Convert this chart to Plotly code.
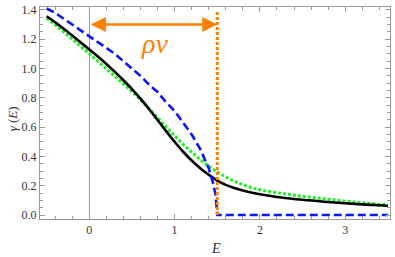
import plotly.graph_objects as go

# ---- data ----
E_black = [-0.5, -0.4, -0.3, -0.2, -0.1, 0.0, 0.1, 0.2, 0.3, 0.4, 0.5, 0.6, 0.7, 0.8, 0.9, 1.0,
           1.1, 1.2, 1.3, 1.4, 1.5, 1.6, 1.7, 1.8, 2.0, 2.25, 2.5, 2.75, 3.0, 3.25, 3.5]
gamma_black = [1.357, 1.315, 1.271, 1.225, 1.178, 1.130, 1.082, 1.031, 0.977, 0.920, 0.860, 0.795,
               0.724, 0.649, 0.573, 0.500, 0.432, 0.372, 0.320, 0.275, 0.235, 0.206, 0.184, 0.167,
               0.142, 0.120, 0.104, 0.091, 0.080, 0.071, 0.063]

E_green = [-0.5, -0.4, -0.3, -0.2, -0.1, 0.0, 0.1, 0.2, 0.3, 0.4, 0.5, 0.6, 0.7, 0.8, 0.9, 1.0,
           1.1, 1.2, 1.3, 1.4, 1.5, 1.6, 1.7, 1.8, 1.9, 2.0, 2.25, 2.5, 2.75, 3.0, 3.25, 3.5]
gamma_green = [1.345, 1.298, 1.250, 1.201, 1.151, 1.100, 1.049, 0.998, 0.947, 0.895, 0.842, 0.786,
               0.726, 0.664, 0.602, 0.541, 0.483, 0.429, 0.379, 0.334, 0.294, 0.260, 0.231, 0.207,
               0.188, 0.173, 0.148, 0.128, 0.111, 0.095, 0.081, 0.068]

E_blue = [-0.5, -0.4, -0.3, -0.2, -0.1, 0.0, 0.1, 0.2, 0.3, 0.4, 0.5, 0.6, 0.7, 0.8, 0.9,
          1.0, 1.1, 1.2, 1.3, 1.4, 1.45, 1.48, 1.5, 3.5]
gamma_blue = [1.41, 1.38, 1.34, 1.30, 1.26, 1.22, 1.18, 1.14, 1.10, 1.05, 1.00, 0.95, 0.89, 0.84, 0.77,
              0.71, 0.63, 0.55, 0.45, 0.32, 0.22, 0.14, 0.0, 0.0]

rho_v = 1.5          # position of the orange cut-off line
cut_top = 1.39       # top of orange dotted line
arrow_y = 1.3        # height of double arrow
label_pos = (0.77, 1.17)

x_ticks = [0, 1, 2, 3]
y_ticks = [0.0, 0.2, 0.4, 0.6, 0.8, 1.0, 1.2, 1.4]
y_tick_labels = ["0.0", "0.2", "0.4", "0.6", "0.8", "1.0", "1.2", "1.4"]

ORANGE = "#ff8000"
AXC = "#9a9a9a"
FONT = "Times New Roman, Liberation Serif, DejaVu Serif, serif"

fig = go.Figure()
fig.add_trace(go.Scatter(x=E_green, y=gamma_green, mode="lines", line_shape="spline",
                         line=dict(color="#22ee22", width=3, dash="3px,2px")))
fig.add_trace(go.Scatter(x=E_black, y=gamma_black, mode="lines", line_shape="spline",
                         line=dict(color="black", width=2.6)))
fig.add_trace(go.Scatter(x=E_blue, y=gamma_blue, mode="lines",
                         line=dict(color="#0a14ff", width=2.6, dash="8px,4px")))
fig.add_trace(go.Scatter(x=[rho_v, rho_v], y=[0, cut_top], mode="lines",
                         line=dict(color=ORANGE, width=3, dash="3px,2px")))

# double arrow
fig.add_annotation(x=rho_v, y=arrow_y, ax=0, ay=arrow_y, xref="x", yref="y", axref="x", ayref="y",
                   text="", showarrow=True, arrowhead=2, startarrowhead=2, arrowside="end+start",
                   arrowwidth=2.5, arrowsize=1.2, startarrowsize=1.2, arrowcolor=ORANGE)
fig.add_annotation(x=label_pos[0], y=label_pos[1], xref="x", yref="y", text="<i>ρv</i>",
                   showarrow=False, font=dict(family=FONT, size=28, color=ORANGE))

# axis titles
fig.add_annotation(x=1.49, y=-0.14, xref="x", yref="paper", text="<i>E</i>", showarrow=False,
                   yanchor="middle", font=dict(family=FONT, size=14, color="#333"))
fig.add_annotation(x=-0.08, y=0.47, xref="paper", yref="paper", text="<i>γ</i> (<i>E</i>)",
                   showarrow=False, textangle=-90, xanchor="center",
                   font=dict(family=FONT, size=13, color="#333"))

fig.update_layout(
    width=395, height=257, margin=dict(l=40, r=5, t=3, b=38),
    plot_bgcolor="white", paper_bgcolor="white", showlegend=False,
    font=dict(family=FONT, size=11, color="#333"),
)
fig.update_xaxes(range=[-0.578, 3.525], tickvals=x_ticks, ticks="inside", ticklen=5, tickcolor=AXC,
                 showline=True, linecolor=AXC, linewidth=1, mirror="ticks", showgrid=False,
                 zeroline=True, zerolinecolor=AXC, zerolinewidth=1, ticklabeloverflow="allow",
                 tickfont=dict(family=FONT, size=12, color="#333"),
                 minor=dict(dtick=0.2, ticks="inside", ticklen=3, tickcolor=AXC, showgrid=False))
fig.update_yaxes(range=[-0.027, 1.42], tickvals=y_ticks, ticktext=y_tick_labels, ticks="inside",
                 ticklen=5, tickcolor=AXC, showline=True, linecolor=AXC, linewidth=1, mirror="ticks",
                 showgrid=False, zeroline=False, ticklabeloverflow="allow",
                 tickfont=dict(family=FONT, size=12, color="#333"),
                 minor=dict(dtick=0.05, ticks="inside", ticklen=3, tickcolor=AXC, showgrid=False))

fig.write_html("out.html", config={"displayModeBar": False},
               post_script="document.body.style.margin='0px';")
